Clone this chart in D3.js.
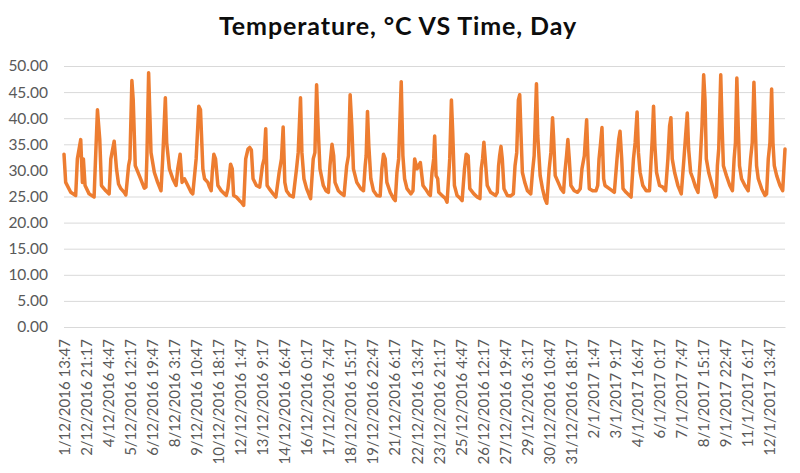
<!DOCTYPE html>
<html lang="en">
<head>
    <meta charset="UTF-8">
    <title>Temperature VS Time</title>
    <script src="https://d3js.org/d3.v7.min.js"></script>
    <style>
        body { margin: 0; background: #fff; }
        #chart text { font-family: Lato, "Open Sans", sans-serif; }
    </style>
</head>
<body>
    <div id="chart"></div>

    <script>
        // time of each reading, in hours after the first one (1/12/2016 13:47)
        var startLabel = "1/12/2016 13:47";

        var hours = [
            0, 2.4, 9.6, 16.7, 19.1, 23.9, 26.3, 27.7, 30.1, 35.9,
            43.0, 44.5, 47.8, 51.1, 53.5, 59.8, 64.5, 66.9, 71.7, 75.0,
            77.9, 81.3, 86.0, 88.4, 92.3, 94.2, 97.0, 98.9, 101.8, 107.6,
            114.7, 117.1, 118.5, 120.9, 124.3, 129.1, 133.8, 138.6, 141.0, 144.8,
            146.7, 150.6, 155.4, 160.1, 162.5, 165.9, 168.7, 172.1, 176.9, 181.6,
            184.0, 188.8, 192.6, 195.0, 198.4, 200.8, 205.5, 207.9, 210.3, 211.8,
            214.1, 216.5, 219.9, 224.7, 229.4, 231.8, 234.2, 238.0, 240.4, 242.3,
            246.2, 250.9, 253.3, 256.7, 259.6, 262.9, 265.3, 267.7, 270.1, 274.9,
            279.6, 283.5, 285.9, 288.2, 290.2, 293.1, 298.8, 302.7, 307.4, 310.7,
            313.1, 315.5, 317.9, 322.7, 327.5, 332.2, 334.6, 337.9, 339.9, 342.8,
            346.6, 352.3, 356.1, 358.5, 360.9, 362.8, 365.7, 370.5, 374.3, 377.7,
            380.0, 382.9, 385.3, 387.2, 392.0, 396.8, 400.1, 403.9, 406.4, 408.8,
            411.2, 413.5, 418.3, 424.0, 427.9, 430.3, 431.7, 433.6, 435.5, 438.4,
            442.2, 447.0, 451.7, 454.1, 456.5, 458.9, 461.3, 466.1, 470.9, 473.3,
            475.7, 478.1, 481.8, 484.2, 486.6, 490.0, 495.7, 498.6, 501.0, 504.3,
            509.1, 512.9, 516.2, 521.0, 523.4, 525.8, 528.2, 529.6, 531.6, 533.9,
            535.4, 540.1, 544.9, 547.3, 549.7, 551.1, 553.5, 555.4, 557.8, 561.6,
            566.4, 568.8, 572.2, 574.6, 577.4, 579.8, 585.6, 590.3, 594.2, 596.1,
            598.0, 599.9, 601.8, 604.7, 609.5, 616.6, 619.0, 620.9, 622.4, 624.3,
            626.2, 628.6, 633.4, 638.2, 642.0, 644.4, 646.8, 649.2, 651.1, 653.0,
            654.9, 658.3, 662.1, 666.9, 669.3, 671.7, 675.0, 676.9, 680.3, 683.6,
            687.0, 689.8, 693.2, 695.6, 698.0, 699.4, 701.8, 705.1, 709.9, 713.7,
            715.6, 718.0, 719.9, 721.9, 724.2, 729.0, 733.8, 737.6, 740.0, 743.4,
            746.7, 748.6, 750.5, 755.3, 760.1, 762.5, 764.4, 766.5, 768.6, 771.0,
            772.9, 779.1, 786.3, 790.1, 792.5, 794.4, 796.8, 798.7, 803.0, 807.8,
            810.2, 813.6, 816.0, 818.8, 820.7, 823.1, 827.0, 831.8, 836.5, 838.9,
            840.4, 842.3, 844.2, 846.6, 850.9, 855.6, 859.5, 862.8, 865.2, 867.1,
            869.0, 872.4, 877.1, 881.9, 885.7, 888.1, 890.5, 892.4, 895.3, 898.6,
            902.4, 905.8, 909.1, 911.5, 913.9, 915.8, 917.7, 921.1, 924.9, 930.6,
            932.1, 933.5, 935.4, 938.3, 940.2, 942.1, 946.4, 951.2, 955.0, 957.4,
            959.3, 961.3, 963.2, 965.1, 968.0, 972.8, 977.5, 980.9, 983.3, 985.7,
            987.6, 989.5, 991.9, 996.7, 1001.5, 1003.8, 1006.2, 1008.6, 1011.0, 1012.9,
            1014.8, 1018.2, 1022.9, 1026.8, 1030.1
        ];

        // temperature, °C
        var temps = [
            33.1, 27.7, 25.8, 25.2, 32.2, 35.9, 27.7, 32.2, 27.1, 25.5,
            24.9, 30.3, 41.6, 35.9, 27.1, 26.1, 25.5, 32.2, 35.6, 30.3,
            27.4, 26.5, 25.8, 25.3, 30.9, 32.2, 47.2, 43.5, 30.9, 29.0,
            26.6, 26.8, 32.8, 48.7, 33.4, 29.6, 27.7, 26.1, 32.2, 43.9,
            35.3, 30.3, 28.4, 27.1, 30.3, 33.1, 27.7, 28.4, 27.1, 25.8,
            25.5, 32.2, 42.3, 41.6, 30.3, 28.4, 27.7, 26.8, 26.1, 29.6,
            33.1, 32.2, 27.1, 26.1, 25.5, 25.2, 26.5, 31.2, 30.3, 25.2,
            24.9, 24.2, 23.9, 23.3, 32.2, 34.1, 34.4, 33.9, 28.4, 27.1,
            26.8, 30.9, 32.2, 38.0, 27.1, 26.5, 25.5, 24.9, 29.6, 32.2,
            38.3, 27.7, 26.1, 25.2, 24.9, 30.3, 33.4, 43.9, 33.4, 28.4,
            26.5, 24.6, 32.2, 33.4, 46.4, 39.1, 30.3, 27.1, 26.1, 25.8,
            30.9, 35.0, 32.8, 27.7, 26.1, 25.5, 25.2, 30.9, 32.8, 44.5,
            38.5, 30.3, 27.7, 26.5, 26.1, 30.9, 32.8, 41.3, 34.7, 28.4,
            26.1, 25.2, 25.1, 30.3, 33.1, 32.2, 27.7, 25.8, 24.6, 24.2,
            29.6, 32.2, 47.0, 32.8, 28.4, 26.5, 25.5, 26.1, 32.2, 30.3,
            31.5, 27.1, 26.5, 25.5, 25.2, 29.6, 32.2, 36.6, 29.0, 28.4,
            25.8, 25.2, 24.6, 23.9, 29.0, 32.2, 43.5, 37.2, 27.1, 25.2,
            24.6, 24.2, 30.3, 33.1, 32.8, 26.5, 25.5, 24.9, 24.6, 30.3,
            32.2, 35.4, 32.2, 27.1, 25.8, 25.2, 25.8, 30.9, 32.8, 34.6,
            32.2, 26.5, 25.2, 25.1, 25.5, 30.9, 33.4, 43.5, 44.5, 36.6,
            29.6, 27.7, 26.1, 25.5, 29.6, 32.8, 46.6, 36.6, 29.0, 26.5,
            24.6, 23.7, 30.3, 33.4, 40.1, 36.6, 29.0, 28.0, 26.5, 25.8,
            29.6, 32.8, 35.9, 32.2, 27.1, 26.1, 25.8, 26.5, 30.3, 32.8,
            39.7, 32.2, 26.5, 26.1, 26.1, 27.1, 32.2, 35.0, 38.2, 28.4,
            27.1, 26.5, 25.8, 32.2, 35.9, 37.5, 32.2, 26.5, 25.8, 25.2,
            24.9, 32.2, 35.3, 41.2, 33.4, 29.6, 27.1, 26.1, 26.1, 32.2,
            35.9, 42.3, 34.7, 29.6, 27.1, 26.8, 26.1, 32.2, 38.5, 40.1,
            32.2, 29.6, 27.1, 25.5, 32.2, 36.6, 41.0, 34.1, 29.6, 28.4,
            26.8, 25.8, 32.2, 38.5, 48.3, 43.5, 32.2, 29.6, 27.7, 24.9,
            25.2, 30.9, 34.1, 48.3, 38.5, 30.9, 29.0, 27.1, 26.1, 32.2,
            35.3, 47.7, 38.5, 30.9, 28.4, 27.1, 26.1, 32.2, 35.3, 46.9,
            38.5, 30.9, 28.4, 26.5, 25.2, 25.5, 32.2, 35.3, 45.6, 35.3,
            30.9, 29.0, 27.1, 26.1, 34.1
        ];

        var xLabels = [
            "1/12/2016 13:47", "2/12/2016 21:17", "4/12/2016 4:47", "5/12/2016 12:17",
            "6/12/2016 19:47", "8/12/2016 3:17", "9/12/2016 10:47", "10/12/2016 18:17",
            "12/12/2016 1:47", "13/12/2016 9:17", "14/12/2016 16:47", "16/12/2016 0:17",
            "17/12/2016 7:47", "18/12/2016 15:17", "19/12/2016 22:47", "21/12/2016 6:17",
            "22/12/2016 13:47", "23/12/2016 21:17", "25/12/2016 4:47", "26/12/2016 12:17",
            "27/12/2016 19:47", "29/12/2016 3:17", "30/12/2016 10:47", "31/12/2016 18:17",
            "2/1/2017 1:47", "3/1/2017 9:17", "4/1/2017 16:47", "6/1/2017 0:17",
            "7/1/2017 7:47", "8/1/2017 15:17", "9/1/2017 22:47", "11/1/2017 6:17",
            "12/1/2017 13:47"
        ];

        var yTicks = [0, 5, 10, 15, 20, 25, 30, 35, 40, 45, 50];

        var w = 800;
        var h = 473;
        var margin = { top: 66, right: 15, bottom: 146, left: 64 };
        var innerW = w - margin.left - margin.right;
        var innerH = h - margin.top - margin.bottom;

        var parseTime = d3.timeParse("%d/%m/%Y %H:%M");
        var start = parseTime(startLabel);
        var hourMs = 3600 * 1000;

        var data = hours.map(function(hr, i) {
            return { t: new Date(start.getTime() + hr * hourMs), v: temps[i] };
        });

        var svg = d3.select("#chart").append("svg")
            .attr("width", w)
            .attr("height", h);

        svg.append("text")
            .attr("x", 398)
            .attr("y", 35)
            .attr("text-anchor", "middle")
            .style("font-size", "25px")
            .style("font-weight", "bold")
            .style("letter-spacing", "0.9px")
            .style("fill", "#0d0d0d")
            .text("Temperature, °C VS Time, Day");

        var g = svg.append("g")
            .attr("transform", "translate(" + margin.left + "," + margin.top + ")");

        var xScale = d3.scaleTime()
            .domain([data[0].t, data[data.length - 1].t])
            .range([0, innerW]);

        var yScale = d3.scaleLinear()
            .domain([0, 50])
            .range([innerH, 0]);

        // gridlines + y labels
        var yAxis = g.append("g")
            .call(d3.axisLeft(yScale)
                .tickValues(yTicks)
                .tickFormat(d3.format(".2f"))
                .tickSize(-innerW)
                .tickPadding(16));

        yAxis.select(".domain").remove();
        yAxis.selectAll(".tick line")
            .attr("stroke", "#d9d9d9")
            .attr("stroke-width", 1);
        yAxis.selectAll(".tick text")
            .style("font-size", "15.5px")
            .style("fill", "#595959");

        // x labels at the labelled times
        var xAxis = g.append("g")
            .attr("transform", "translate(0," + innerH + ")")
            .call(d3.axisBottom(xScale)
                .tickValues(xLabels.map(parseTime))
                .tickFormat(function(d, i) { return xLabels[i]; })
                .tickSize(0));

        xAxis.select(".domain")
            .attr("stroke", "#d9d9d9");
        xAxis.selectAll(".tick text")
            .attr("transform", "rotate(-90)")
            .attr("x", -12)
            .attr("y", 0)
            .attr("dy", "0.35em")
            .attr("text-anchor", "end")
            .style("font-size", "15px")
            .style("fill", "#595959");

        var line = d3.line()
            .x(function(d) { return xScale(d.t); })
            .y(function(d) { return yScale(d.v); });

        g.append("path")
            .datum(data)
            .attr("fill", "none")
            .attr("stroke", "#ed7d31")
            .attr("stroke-width", 3.5)
            .attr("stroke-linejoin", "round")
            .attr("stroke-linecap", "round")
            .attr("d", line);
    </script>
</body>
</html>
